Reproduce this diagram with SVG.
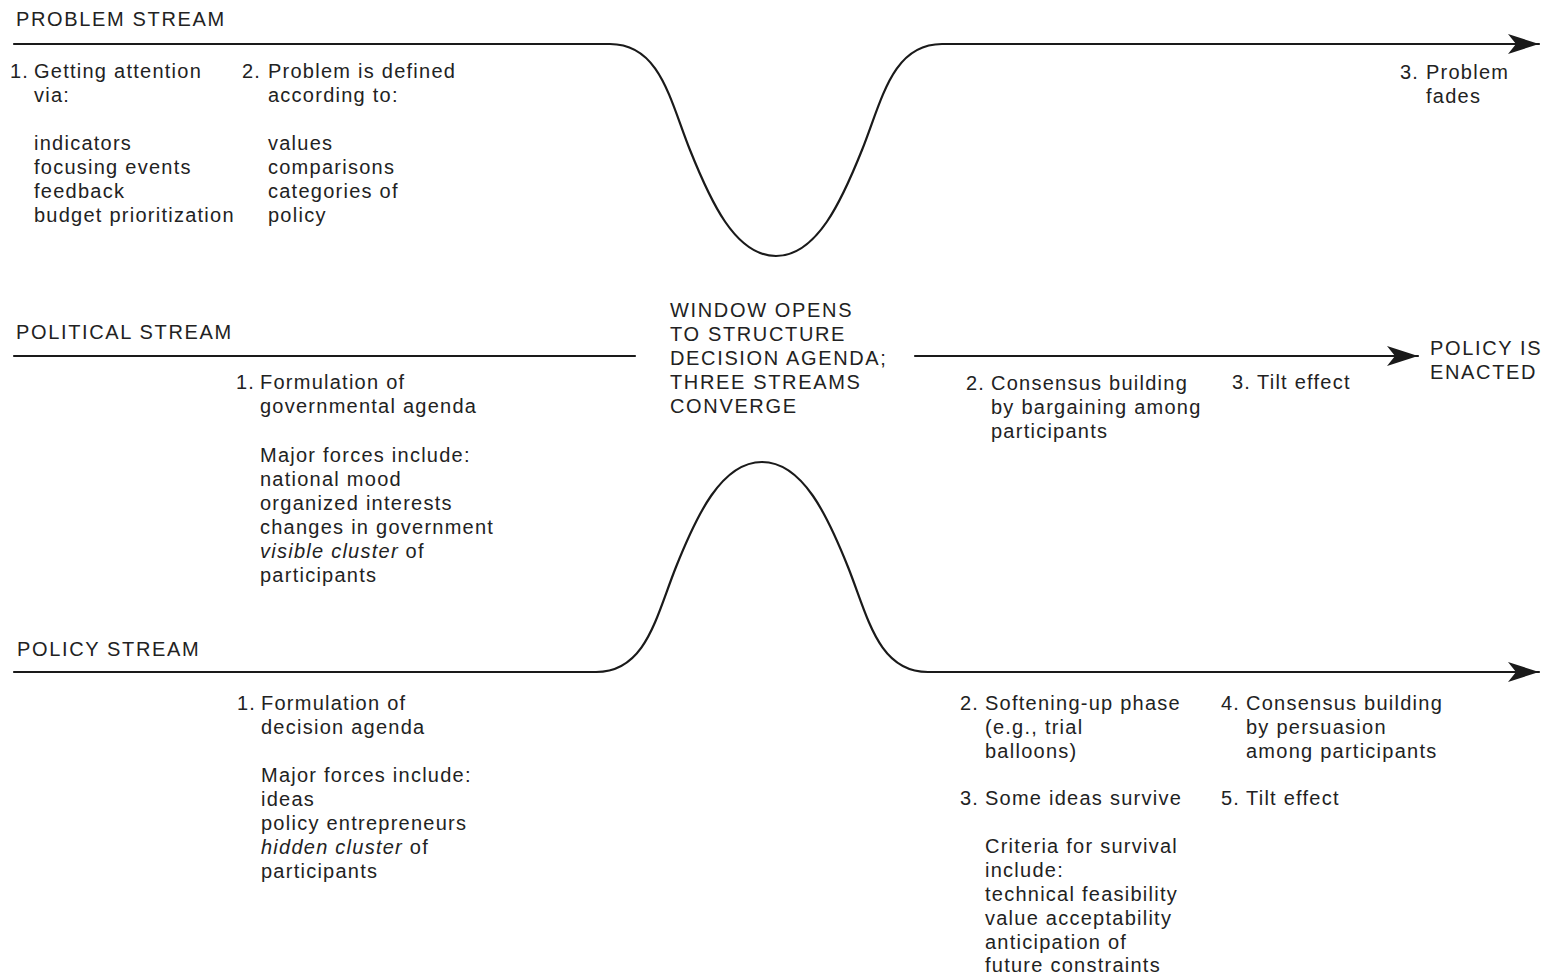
<svg xmlns="http://www.w3.org/2000/svg" width="1545" height="974" viewBox="0 0 1545 974">
<style>
text{font-family:"Liberation Sans",Arial,Helvetica,sans-serif;font-size:20px;fill:#222;letter-spacing:1.25px}
.cap{letter-spacing:1.65px}
.it{font-style:italic}
.stream{fill:none;stroke:#1a1a1a;stroke-width:2.2;stroke-linecap:round}
</style>
<defs>
<marker id="arr" markerUnits="userSpaceOnUse" markerWidth="32" markerHeight="22" viewBox="-32 -11 32 22" refX="0" refY="0" orient="auto">
<path d="M0,0 L-31,-10 L-23,0 L-31,10 Z" fill="#1a1a1a"/>
</marker>
</defs>
<rect width="1545" height="974" fill="#fff"/>
<g id="connectors">
<path class="stream" d="M14,44 H610 C660,44 670,100 690,150 C710,200 735,256 776,256 C817,256 842,200 862,150 C882,100 892,44 942,44 H1539" marker-end="url(#arr)"/>
<path class="stream" d="M14,356 H635"/>
<path class="stream" d="M915,356 H1418" marker-end="url(#arr)"/>
<path class="stream" d="M14,672 H596 C646,672 656,617 676,567 C696,517 721,462 762,462 C803,462 828,517 848,567 C868,617 878,672 928,672 H1539" marker-end="url(#arr)"/>
</g>
<g id="problem-stream-label"><text class="cap" x="16" y="26">PROBLEM STREAM</text></g>
<g id="problem-1">
<text><tspan x="10" y="78">1.</tspan><tspan x="34" y="78">Getting attention</tspan><tspan x="34" y="102">via:</tspan><tspan x="34" y="150">indicators</tspan><tspan x="34" y="174">focusing events</tspan><tspan x="34" y="198">feedback</tspan><tspan x="34" y="222">budget prioritization</tspan></text>
</g>
<g id="problem-2">
<text><tspan x="242" y="78">2.</tspan><tspan x="268" y="78">Problem is defined</tspan><tspan x="268" y="102">according to:</tspan><tspan x="268" y="150">values</tspan><tspan x="268" y="174">comparisons</tspan><tspan x="268" y="198">categories of</tspan><tspan x="268" y="222">policy</tspan></text>
</g>
<g id="problem-3">
<text><tspan x="1400" y="79">3.</tspan><tspan x="1426" y="79">Problem</tspan><tspan x="1426" y="103">fades</tspan></text>
</g>
<g id="window">
<text class="cap"><tspan x="670" y="317">WINDOW OPENS</tspan><tspan x="670" y="341">TO STRUCTURE</tspan><tspan x="670" y="365">DECISION AGENDA;</tspan><tspan x="670" y="389">THREE STREAMS</tspan><tspan x="670" y="413">CONVERGE</tspan></text>
</g>
<g id="political-stream-label"><text class="cap" x="16" y="339">POLITICAL STREAM</text></g>
<g id="political-1">
<text><tspan x="236" y="389">1.</tspan><tspan x="260" y="389">Formulation of</tspan><tspan x="260" y="413">governmental agenda</tspan><tspan x="260" y="462">Major forces include:</tspan><tspan x="260" y="486">national mood</tspan><tspan x="260" y="510">organized interests</tspan><tspan x="260" y="534">changes in government</tspan><tspan x="260" y="558" class="it">visible cluster</tspan><tspan> of</tspan><tspan x="260" y="582">participants</tspan></text>
</g>
<g id="political-2">
<text><tspan x="966" y="390">2.</tspan><tspan x="991" y="390">Consensus building</tspan><tspan x="991" y="414">by bargaining among</tspan><tspan x="991" y="438">participants</tspan></text>
</g>
<g id="political-3">
<text><tspan x="1232" y="389">3.</tspan><tspan x="1257" y="389">Tilt effect</tspan></text>
</g>
<g id="policy-enacted">
<text class="cap"><tspan x="1430" y="355">POLICY IS</tspan><tspan x="1430" y="379">ENACTED</tspan></text>
</g>
<g id="policy-stream-label"><text class="cap" x="17" y="656">POLICY STREAM</text></g>
<g id="policy-1">
<text><tspan x="237" y="710">1.</tspan><tspan x="261" y="710">Formulation of</tspan><tspan x="261" y="734">decision agenda</tspan><tspan x="261" y="782">Major forces include:</tspan><tspan x="261" y="806">ideas</tspan><tspan x="261" y="830">policy entrepreneurs</tspan><tspan x="261" y="854" class="it">hidden cluster</tspan><tspan> of</tspan><tspan x="261" y="878">participants</tspan></text>
</g>
<g id="policy-2">
<text><tspan x="960" y="710">2.</tspan><tspan x="985" y="710">Softening-up phase</tspan><tspan x="985" y="734">(e.g., trial</tspan><tspan x="985" y="758">balloons)</tspan></text>
</g>
<g id="policy-3">
<text><tspan x="960" y="805">3.</tspan><tspan x="985" y="805">Some ideas survive</tspan><tspan x="985" y="853">Criteria for survival</tspan><tspan x="985" y="877">include:</tspan><tspan x="985" y="901">technical feasibility</tspan><tspan x="985" y="925">value acceptability</tspan><tspan x="985" y="949">anticipation of</tspan><tspan x="985" y="972">future constraints</tspan></text>
</g>
<g id="policy-4">
<text><tspan x="1221" y="710">4.</tspan><tspan x="1246" y="710">Consensus building</tspan><tspan x="1246" y="734">by persuasion</tspan><tspan x="1246" y="758">among participants</tspan></text>
</g>
<g id="policy-5">
<text><tspan x="1221" y="805">5.</tspan><tspan x="1246" y="805">Tilt effect</tspan></text>
</g>
</svg>
